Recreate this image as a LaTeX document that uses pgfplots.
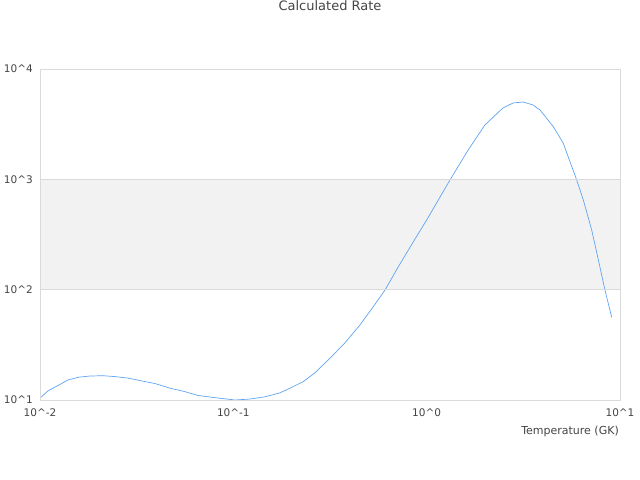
\documentclass[border=0pt]{standalone}
\usepackage{pgfplots}
\pgfplotsset{compat=1.18}
\usepackage{fontspec}
\setmainfont{DejaVu Sans}
\definecolor{txt}{RGB}{68,68,68}
\definecolor{gridc}{RGB}{218,218,218}
\definecolor{band}{RGB}{242,242,242}
\definecolor{curve}{RGB}{95,165,245}
\begin{document}
\begin{tikzpicture}
\useasboundingbox (-40bp,-80bp) rectangle (600bp,400bp);
\begin{axis}[
  at={(0,0)}, anchor=south west,
  scale only axis, width=580bp, height=331bp,
  xmode=log, ymode=log,
  xmin=0.01, xmax=10, ymin=10, ymax=10000,
  axis on top,
  axis line style={gridc},
  major tick length=0pt, minor tick num=0,
  xtick={0.01,0.1,1,10}, ytick={10,100,1000,10000},
  xticklabels={10\textasciicircum-2,10\textasciicircum-1,10\textasciicircum0,10\textasciicircum1},
  yticklabels={10\textasciicircum1,10\textasciicircum2,10\textasciicircum3,10\textasciicircum4},
  xminorticks=false, yminorticks=false,
  ymajorgrids, major grid style={gridc},
  tick label style={font=\fontsize{10.5bp}{12bp}\selectfont, text=txt},
  xticklabel style={anchor=center, inner sep=0pt, yshift=-13bp},
  yticklabel style={anchor=east, inner sep=0pt, xshift=-7bp},
  title={Calculated Rate},
  title style={at={(0.5,1)}, anchor=center, yshift=57bp, font=\fontsize{13bp}{15bp}\selectfont, text=txt},
  xlabel={Temperature (GK)},
  xlabel style={at={(1,0)}, anchor=east, inner sep=0pt, yshift=-31bp, xshift=-1bp, font=\fontsize{11bp}{13bp}\selectfont, text=txt},
]
\addplot[draw=none, fill=band] coordinates {(0.01,100) (10,100) (10,1000) (0.01,1000)} -- cycle;
\addplot[curve, line width=0.7bp] coordinates {
(0.0100,10.4) (0.0110,12.1) (0.01225,13.4) (0.01396,15.2) (0.0159,16.1)
(0.01815,16.5) (0.0212,16.6) (0.0244,16.3) (0.0285,15.8) (0.0329,15.0)
(0.0393,14.1) (0.0470,12.8) (0.0562,11.9) (0.0656,11.0) (0.0804,10.5)
(0.102,10.0) (0.122,10.2) (0.146,10.7) (0.174,11.6) (0.1964,12.8)
(0.230,14.7) (0.264,17.6) (0.316,23.9) (0.378,33.0) (0.452,47.9)
(0.541,74) (0.609,99.3) (0.713,161) (0.849,268) (1.00,428)
(1.32,986) (1.64,1846) (2.00,3104) (2.48,4436) (2.80,4920)
(3.15,5023) (3.55,4720) (3.86,4246) (4.52,2999) (5.09,2122)
(5.97,986) (6.46,650) (7.14,347) (7.73,186) (8.36,99.3) (9.06,56.2)
};
\end{axis}
\end{tikzpicture}
\end{document}
